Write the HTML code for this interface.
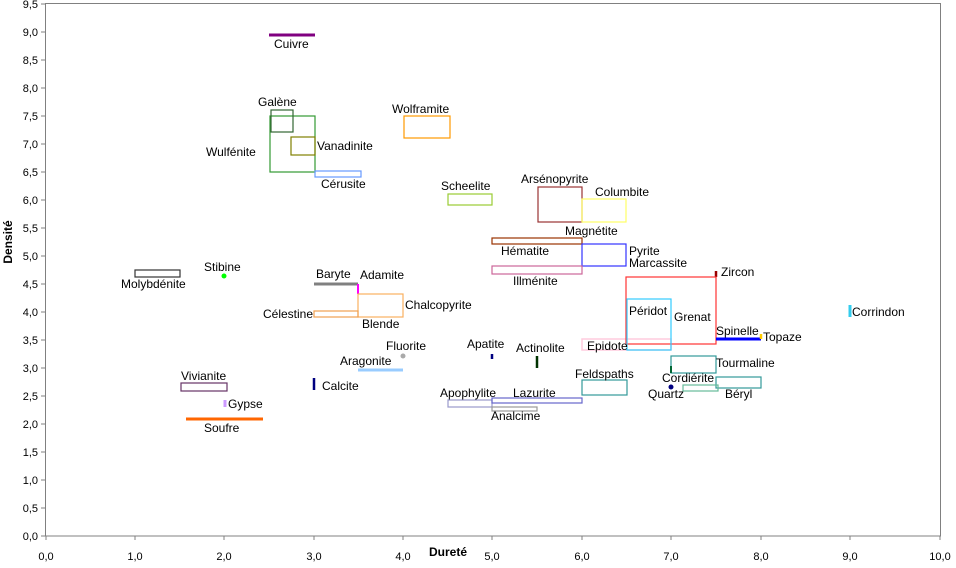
<!DOCTYPE html>
<html><head><meta charset="utf-8"><style>
body{margin:0;background:#fff}
svg text{font-family:"Liberation Sans",Arial,sans-serif;font-size:12px;fill:#000}
.t{font-size:11px}
</style></head><body>
<svg width="956" height="563" viewBox="0 0 956 563" xmlns="http://www.w3.org/2000/svg">
<rect x="45.5" y="3.5" width="895" height="532.5" fill="#fff" stroke="#808080"/>
<g stroke="#808080">
<line x1="41" y1="536" x2="45" y2="536"/><line x1="41" y1="508" x2="45" y2="508"/><line x1="41" y1="480" x2="45" y2="480"/><line x1="41" y1="452" x2="45" y2="452"/><line x1="41" y1="424" x2="45" y2="424"/><line x1="41" y1="396" x2="45" y2="396"/><line x1="41" y1="368" x2="45" y2="368"/><line x1="41" y1="340" x2="45" y2="340"/><line x1="41" y1="312" x2="45" y2="312"/><line x1="41" y1="284" x2="45" y2="284"/><line x1="41" y1="256" x2="45" y2="256"/><line x1="41" y1="228" x2="45" y2="228"/><line x1="41" y1="200" x2="45" y2="200"/><line x1="41" y1="172" x2="45" y2="172"/><line x1="41" y1="144" x2="45" y2="144"/><line x1="41" y1="116" x2="45" y2="116"/><line x1="41" y1="88" x2="45" y2="88"/><line x1="41" y1="60" x2="45" y2="60"/><line x1="41" y1="32" x2="45" y2="32"/><line x1="41" y1="4" x2="45" y2="4"/>
<line x1="46" y1="536" x2="46" y2="540"/><line x1="135" y1="536" x2="135" y2="540"/><line x1="224" y1="536" x2="224" y2="540"/><line x1="314" y1="536" x2="314" y2="540"/><line x1="403" y1="536" x2="403" y2="540"/><line x1="492" y1="536" x2="492" y2="540"/><line x1="582" y1="536" x2="582" y2="540"/><line x1="671" y1="536" x2="671" y2="540"/><line x1="761" y1="536" x2="761" y2="540"/><line x1="850" y1="536" x2="850" y2="540"/><line x1="940" y1="536" x2="940" y2="540"/>
</g>
<g class="t" text-anchor="end">
<text class="t" x="38" y="540">0,0</text><text class="t" x="38" y="512">0,5</text><text class="t" x="38" y="484">1,0</text><text class="t" x="38" y="456">1,5</text><text class="t" x="38" y="428">2,0</text><text class="t" x="38" y="400">2,5</text><text class="t" x="38" y="372">3,0</text><text class="t" x="38" y="344">3,5</text><text class="t" x="38" y="316">4,0</text><text class="t" x="38" y="288">4,5</text><text class="t" x="38" y="260">5,0</text><text class="t" x="38" y="232">5,5</text><text class="t" x="38" y="204">6,0</text><text class="t" x="38" y="176">6,5</text><text class="t" x="38" y="148">7,0</text><text class="t" x="38" y="120">7,5</text><text class="t" x="38" y="92">8,0</text><text class="t" x="38" y="64">8,5</text><text class="t" x="38" y="36">9,0</text><text class="t" x="38" y="8">9,5</text>
</g>
<g text-anchor="middle">
<text class="t" x="46" y="560">0,0</text><text class="t" x="135" y="560">1,0</text><text class="t" x="224" y="560">2,0</text><text class="t" x="314" y="560">3,0</text><text class="t" x="403" y="560">4,0</text><text class="t" x="492" y="560">5,0</text><text class="t" x="582" y="560">6,0</text><text class="t" x="671" y="560">7,0</text><text class="t" x="761" y="560">8,0</text><text class="t" x="850" y="560">9,0</text><text class="t" x="940" y="560">10,0</text>
</g>
<text x="448" y="556" style="font-weight:bold;font-size:12px" text-anchor="middle">Dureté</text>
<text transform="translate(12,242) rotate(-90)" style="font-weight:bold;font-size:12px" text-anchor="middle">Densité</text>
<g fill="none" stroke-width="1.2">
<line x1="269" y1="35" x2="315" y2="35" stroke="#800080" stroke-width="3"/>
<rect x="270" y="116" width="45" height="56" stroke="#339933"/>
<rect x="271" y="110" width="22" height="22" stroke="#336633"/>
<rect x="291" y="137" width="24" height="18" stroke="#808000"/>
<rect x="315" y="171" width="46" height="6" stroke="#6699ff"/>
<rect x="404" y="116" width="46" height="22" stroke="#ff9900"/>
<rect x="448" y="194" width="44" height="11" stroke="#99cc33"/>
<rect x="538" y="187" width="44" height="35" stroke="#993333"/>
<rect x="582" y="199" width="44" height="23" stroke="#ffff66"/>
<rect x="492" y="238" width="90" height="6" stroke="#993300"/>
<rect x="582" y="244" width="44" height="22" stroke="#3333ff"/>
<rect x="492" y="266" width="90" height="8" stroke="#cc6699"/>
<rect x="135" y="270" width="45" height="7" stroke="#333"/>
<line x1="314" y1="284" x2="358" y2="284" stroke="#808080" stroke-width="3"/>
<line x1="358" y1="284" x2="358" y2="294" stroke="#ff00ff" stroke-width="2"/>
<rect x="358" y="294" width="45" height="23" stroke="#f9b060"/>
<rect x="314" y="311" width="44" height="6" stroke="#f0a050"/>
<line x1="358" y1="370" x2="403" y2="370" stroke="#99ccff" stroke-width="3"/>
<line x1="492" y1="354" x2="492" y2="359" stroke="#000080" stroke-width="2.5"/>
<line x1="537" y1="356" x2="537" y2="368" stroke="#003300" stroke-width="2.5"/>
<line x1="314" y1="378" x2="314" y2="390" stroke="#000080" stroke-width="2.5"/>
<rect x="181" y="383" width="46" height="8" stroke="#663366"/>
<line x1="225" y1="400" x2="225" y2="407" stroke="#cc99ff" stroke-width="3"/>
<line x1="186" y1="419" x2="263" y2="419" stroke="#ff6600" stroke-width="3"/>
<line x1="716" y1="271" x2="716" y2="277" stroke="#990000" stroke-width="2.5"/>
<rect x="582" y="339" width="89" height="11" stroke="#ffccdd" stroke-width="1.5"/>
<rect x="626" y="277" width="90" height="67" stroke="#ff3333"/>
<rect x="627" y="299" width="44" height="51" stroke="#33ccff"/>
<line x1="716" y1="339" x2="761" y2="339" stroke="#0000ff" stroke-width="3"/>
<line x1="761" y1="334" x2="761" y2="339" stroke="#ffcc00" stroke-width="2.5"/>
<line x1="850" y1="305" x2="850" y2="317" stroke="#33ccee" stroke-width="3"/>
<rect x="671" y="356" width="45" height="17" stroke="#339999"/>
<line x1="671" y1="366" x2="671" y2="373" stroke="#006633" stroke-width="2"/>
<rect x="582" y="380" width="45" height="15" stroke="#339999"/>
<rect x="716" y="377" width="45" height="11" stroke="#339999"/>
<rect x="683" y="385" width="35" height="6" stroke="#66bb99"/>
<rect x="448" y="400" width="44" height="7" stroke="#9999cc"/>
<rect x="492" y="398" width="90" height="5" stroke="#6666cc"/>
<rect x="492" y="407" width="45" height="4" stroke="#999"/>
</g>
<circle cx="224" cy="276" r="2.5" fill="#00ff00"/>
<circle cx="403" cy="356" r="2.5" fill="#aaa"/>
<circle cx="671" cy="387" r="2.5" fill="#000080"/>
<g>
<text x="274" y="48">Cuivre</text>
<text x="258" y="106">Galène</text>
<text x="206" y="156">Wulfénite</text>
<text x="317" y="150">Vanadinite</text>
<text x="321" y="188">Cérusite</text>
<text x="392" y="113">Wolframite</text>
<text x="441" y="190">Scheelite</text>
<text x="521" y="183">Arsénopyrite</text>
<text x="595" y="196">Columbite</text>
<text x="565" y="235">Magnétite</text>
<text x="501" y="255">Hématite</text>
<text x="629" y="255">Pyrite</text>
<text x="629" y="267">Marcassite</text>
<text x="513" y="285">Illménite</text>
<text x="121" y="288">Molybdénite</text>
<text x="204" y="271">Stibine</text>
<text x="316" y="278">Baryte</text>
<text x="360" y="279">Adamite</text>
<text x="405" y="309">Chalcopyrite</text>
<text x="263" y="318">Célestine</text>
<text x="362" y="328">Blende</text>
<text x="386" y="350">Fluorite</text>
<text x="340" y="365">Aragonite</text>
<text x="467" y="348">Apatite</text>
<text x="516" y="352">Actinolite</text>
<text x="322" y="390">Calcite</text>
<text x="181" y="380">Vivianite</text>
<text x="228" y="408">Gypse</text>
<text x="204" y="432">Soufre</text>
<text x="721" y="276">Zircon</text>
<text x="629" y="315">Péridot</text>
<text x="674" y="321">Grenat</text>
<text x="587" y="350">Epidote</text>
<text x="716" y="335">Spinelle</text>
<text x="763" y="341">Topaze</text>
<text x="852" y="316">Corrindon</text>
<text x="716" y="367">Tourmaline</text>
<text x="662" y="382">Cordiérite</text>
<text x="575" y="378">Feldspaths</text>
<text x="648" y="398">Quartz</text>
<text x="725" y="398">Béryl</text>
<text x="440" y="397">Apophylite</text>
<text x="513" y="397">Lazurite</text>
<text x="491" y="420">Analcime</text>
</g>
</svg>
</body></html>
